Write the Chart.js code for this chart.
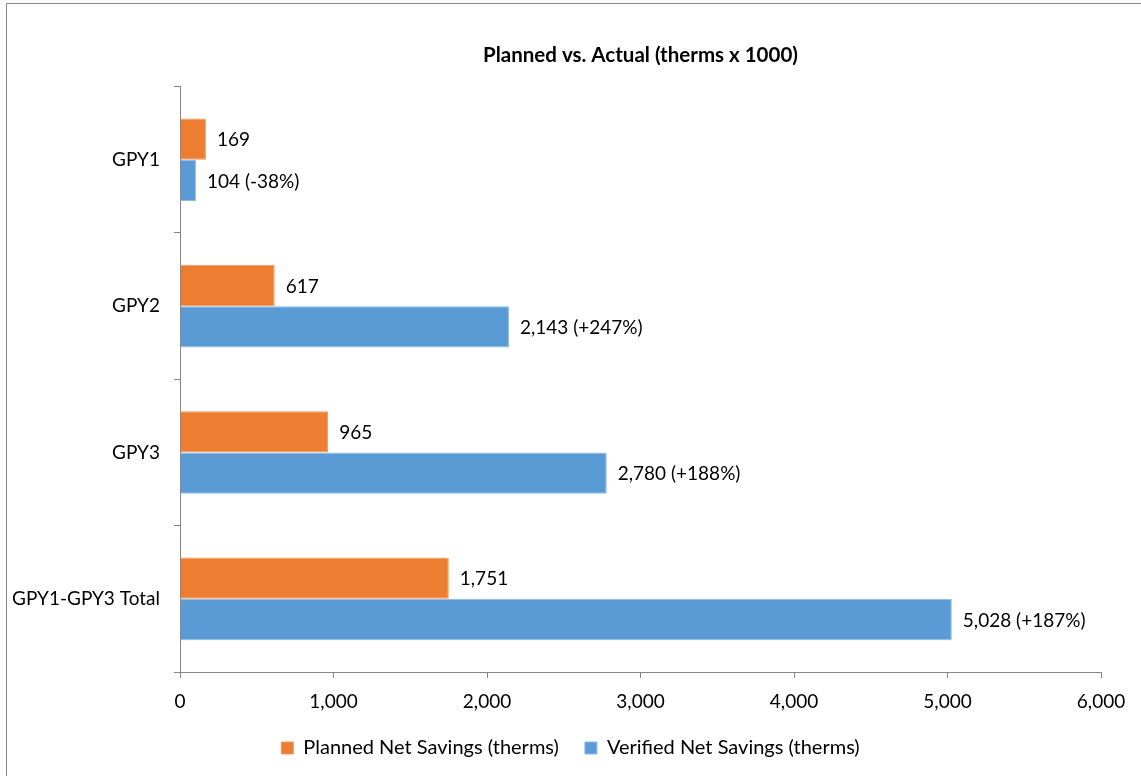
<!DOCTYPE html>
<html>
<head>
<meta charset="utf-8">
<script src="https://cdn.jsdelivr.net/npm/chart.js@4/dist/chart.umd.min.js"></script>
<style>
  html, body { margin: 0; padding: 0; background: #fff; overflow: hidden; }
  #marco { position: absolute; left: 6px; top: 3px; width: 1200px; height: 900px;
           border-left: 1px solid #898989; border-top: 1px solid #898989; }
  #caja { position: absolute; left: 0; top: 0; width: 1141px; height: 776px; }
</style>
</head>
<body>
<div id="marco"></div>
<div id="caja"><canvas id="Grafico1" width="1141" height="776"></canvas></div>
<script>
// datos del grafico
const categorias = ['GPY1', 'GPY2', 'GPY3', 'GPY1-GPY3 Total'];
const planeado = [169, 617, 965, 1751];
const verificado = [104, 2143, 2780, 5028];
const ticksX = [0, 1000, 2000, 3000, 4000, 5000, 6000];

const fuente = 'Lato, "Open Sans", sans-serif';

function fmt(n){
    return n.toLocaleString('en-US');
}

// etiquetas al final de cada barra
const etiquetas = {
    id: 'etiquetas',
    afterDatasetsDraw(chart){
        const ctx = chart.ctx;
        ctx.save();
        ctx.font = '19px ' + fuente;
        ctx.fillStyle = '#000';
        ctx.textBaseline = 'middle';
        ctx.textAlign = 'left';
        chart.data.datasets.forEach((ds, i) => {
            const meta = chart.getDatasetMeta(i);
            meta.data.forEach((bar, j) => {
                let txt = fmt(ds.data[j]);
                if(i == 1){
                    let p = Math.round((verificado[j] / planeado[j] - 1) * 100);
                    txt += ' (' + (p > 0 ? '+' : '') + p + '%)';
                }
                ctx.fillText(txt, bar.x + 11, bar.y + 1);
            });
        });
        ctx.restore();
    }
};

let CanvasG1 = document.getElementById('Grafico1').getContext('2d');
let datos = {
    labels: categorias,
    datasets: [{
        label: 'Planned Net Savings (therms)',
        data: planeado,
        backgroundColor: '#ED7D31',
        borderColor: '#F39A5E',
        borderWidth: 1,
        borderSkipped: 'start',
        barPercentage: 1,
        categoryPercentage: 0.565
    }, {
        label: 'Verified Net Savings (therms)',
        data: verificado,
        backgroundColor: '#5B9BD5',
        borderColor: '#8DBAE5',
        borderWidth: 1,
        borderSkipped: 'start',
        barPercentage: 1,
        categoryPercentage: 0.565
    }]
};
let opciones = {
    indexAxis: 'y',
    responsive: false,
    animation: false,
    layout: { padding: { left: 0, right: 0, top: 0, bottom: 8 } },
    plugins: {
        title: {
            display: true,
            fullSize: false,
            text: 'Planned vs. Actual (therms x 1000)',
            color: '#000',
            font: { family: fuente, size: 20.5, weight: 'bold' },
            padding: { top: 43, bottom: 19 }
        },
        legend: {
            position: 'bottom',
            labels: {
                color: '#000',
                font: { family: fuente, size: 20, lineHeight: 1 },
                boxWidth: 12,
                boxHeight: 12,
                padding: 26
            }
        },
        tooltip: { enabled: false }
    },
    scales: {
        x: {
            min: 0,
            max: 6000,
            afterBuildTicks(scale){
                scale.ticks = ticksX.map(v => ({ value: v }));
            },
            afterFit(scale){
                scale.height = 40;
                scale.paddingRight = 40;
            },
            ticks: {
                color: '#000',
                font: { family: fuente, size: 19, lineHeight: 1 },
                padding: 14,
                maxRotation: 0,
                callback: v => fmt(v)
            },
            grid: { drawOnChartArea: false, color: '#868686', tickLength: 6 },
            border: { color: '#868686' }
        },
        y: {
            afterFit(scale){ scale.width = 180; },
            ticks: {
                color: '#000',
                font: { family: fuente, size: 19 },
                padding: 14
            },
            grid: { offset: true, drawOnChartArea: false, color: '#868686', tickLength: 6 },
            border: { color: '#868686' }
        }
    }
};
let G1 = new Chart(CanvasG1, {
    type: 'bar',
    data: datos,
    options: opciones,
    plugins: [etiquetas]
});
</script>
</body>
</html>
